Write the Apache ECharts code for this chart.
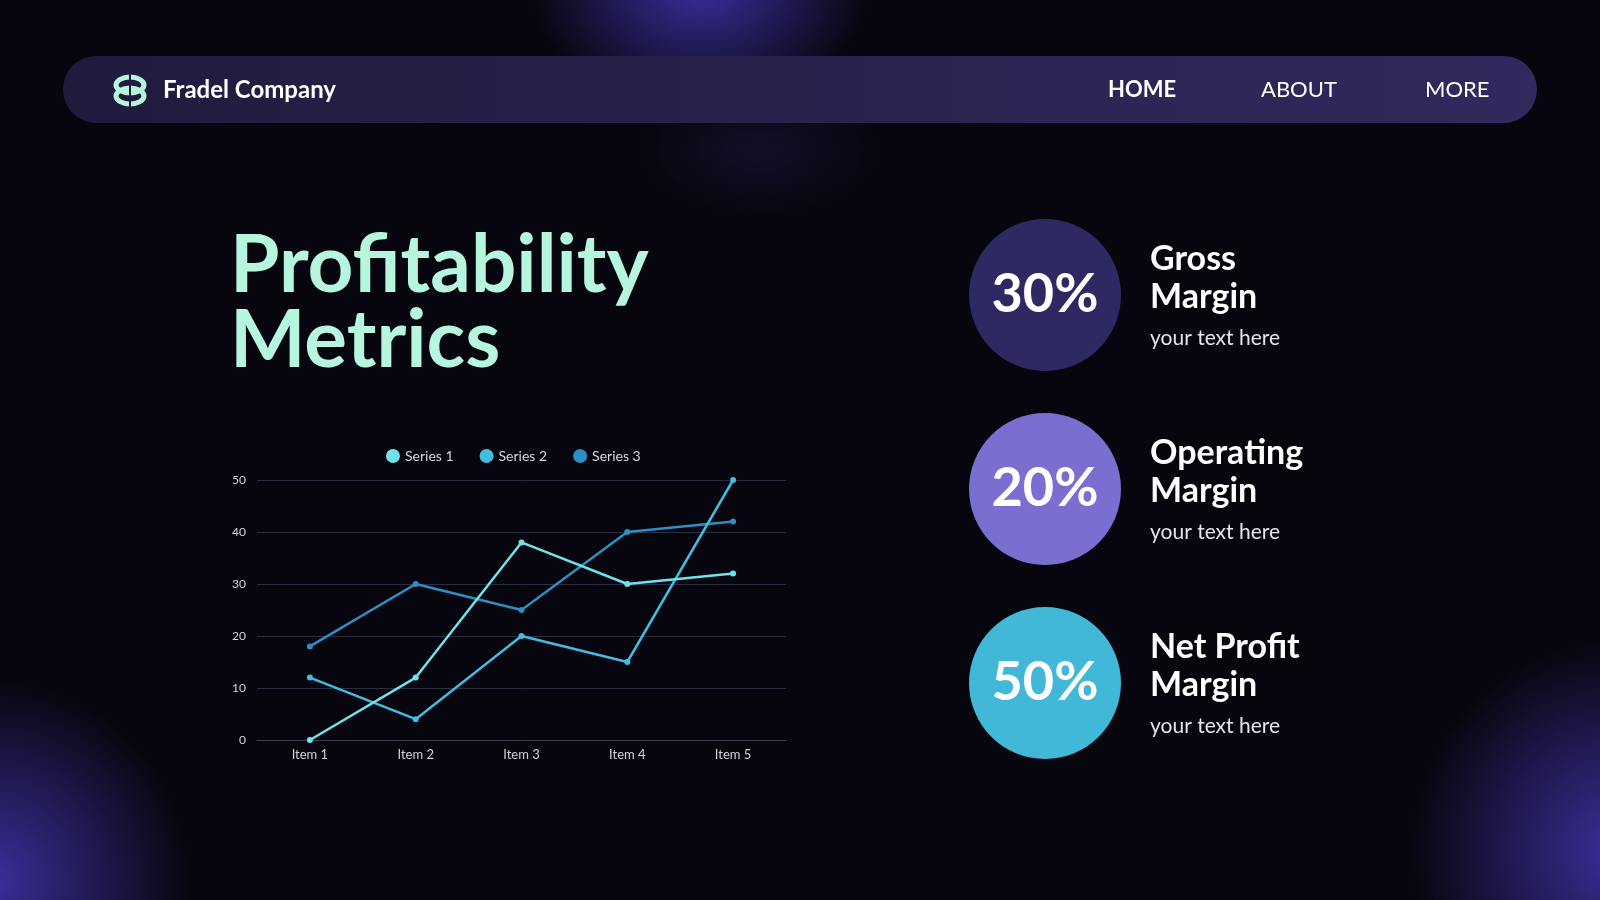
<!DOCTYPE html>
<html>
<head>
<meta charset="utf-8">
<title>Profitability Metrics</title>
<script src="https://cdn.jsdelivr.net/npm/echarts@6/dist/echarts.min.js"></script>
<style>
    html, body { margin: 0; padding: 0; background: #07060e; }
    #chart { width: 1600px; height: 900px; }
</style>
</head>
<body>
<div id="chart"></div>
<script>
    // chart data
    var categories = ['Item 1', 'Item 2', 'Item 3', 'Item 4', 'Item 5'];
    var seriesNames = ['Series 1', 'Series 2', 'Series 3'];
    var series1 = [0, 12, 38, 30, 32];
    var series2 = [12, 4, 20, 15, 50];
    var series3 = [18, 30, 25, 40, 42];
    var yMin = 0, yMax = 50, yStep = 10;

    // metric cards on the right
    var metricValues = ['30%', '20%', '50%'];
    var metricTitles = [['Gross', 'Margin'], ['Operating', 'Margin'], ['Net Profit', 'Margin']];
    var metricNote = 'your text here';
    var navItems = ['HOME', 'ABOUT', 'MORE'];

    var FONT = 'Lato, "Open Sans", sans-serif';
    var lineColors = ['#6fe3ea', '#42bde0', '#2f8fc4'];
    var circleColors = ['#2e2963', '#7a6fd1', '#41b8d8'];
    var mint = '#b6f6de';

    var myChart = echarts.init(document.getElementById('chart'), null, {width: 1600, height: 900});

    function glow(cx, cy, r, color, sy) {
        return {
            type: 'circle',
            silent: true,
            shape: {cx: 0, cy: 0, r: r},
            x: cx, y: cy,
            scaleY: sy || 1,
            style: {
                fill: new echarts.graphic.RadialGradient(0.5, 0.5, 0.5, [
                    {offset: 0, color: color},
                    {offset: 0.4, color: echarts.color.modifyAlpha(color, 0.6)},
                    {offset: 1, color: echarts.color.modifyAlpha(color, 0)}
                ])
            }
        };
    }

    var graphics = [
        glow(700, -15, 170, '#3a2f9e', 0.75),
        glow(760, 150, 120, '#121029', 0.55),
        glow(-10, 880, 200, '#3b2f9c', 1),
        glow(1620, 850, 210, '#3b2f9c', 1),
        // nav bar
        {
            type: 'rect',
            shape: {x: 63, y: 56, width: 1474, height: 67, r: 33.5},
            style: {
                fill: new echarts.graphic.LinearGradient(0, 0, 1, 0, [
                    {offset: 0, color: '#201b3d'},
                    {offset: 1, color: '#302a5e'}
                ])
            }
        },
        // logo
        {type: 'ellipse', shape: {cx: 130, cy: 85, rx: 14, ry: 8}, style: {fill: null, stroke: mint, lineWidth: 5}},
        {type: 'ellipse', shape: {cx: 130, cy: 96, rx: 14, ry: 8}, style: {fill: null, stroke: mint, lineWidth: 5}},
        {type: 'rect', shape: {x: 129, y: 72, width: 2, height: 36}, style: {fill: '#201b3d'}},
        {
            type: 'text',
            style: {text: 'Fradel Company', x: 163, y: 90, fill: '#ffffff', font: 'bold 24px ' + FONT, verticalAlign: 'middle'}
        },
        // title
        {
            type: 'text',
            style: {text: 'Profitability', x: 230, y: 266, fill: mint, font: 'bold 80px ' + FONT, verticalAlign: 'middle'}
        },
        {
            type: 'text',
            style: {text: 'Metrics', x: 230, y: 341, fill: mint, font: 'bold 80px ' + FONT, verticalAlign: 'middle'}
        }
    ];

    var navX = [1108, 1261, 1425];
    for (var i in navItems) {
        graphics.push({
            type: 'text',
            style: {
                text: navItems[i], x: navX[i], y: 90, fill: '#ffffff',
                font: (i == 0 ? 'bold ' : '') + '22px ' + FONT, verticalAlign: 'middle'
            }
        });
    }

    var rowY = [295, 489, 683];
    for (var i in metricValues) {
        var cy = rowY[i];
        graphics.push({type: 'circle', shape: {cx: 1045, cy: cy, r: 76}, style: {fill: circleColors[i]}});
        graphics.push({
            type: 'text',
            style: {
                text: metricValues[i], x: 1045, y: cy, fill: '#ffffff',
                font: 'bold 54px ' + FONT, align: 'center', verticalAlign: 'middle'
            }
        });
        graphics.push({
            type: 'text',
            style: {text: metricTitles[i][0], x: 1150, y: cy - 36, fill: '#ffffff', font: 'bold 34px ' + FONT, verticalAlign: 'middle'}
        });
        graphics.push({
            type: 'text',
            style: {text: metricTitles[i][1], x: 1150, y: cy + 2, fill: '#ffffff', font: 'bold 34px ' + FONT, verticalAlign: 'middle'}
        });
        graphics.push({
            type: 'text',
            style: {text: metricNote, x: 1150, y: cy + 43, fill: '#e4e4ee', font: '21px ' + FONT, verticalAlign: 'middle'}
        });
    }

    var seriesData = [series1, series2, series3];
    var series = [];
    for (var i in seriesData) {
        series.push({
            name: seriesNames[i],
            type: 'line',
            data: seriesData[i],
            symbol: 'circle',
            symbolSize: 6,
            lineStyle: {width: 2.5, color: lineColors[i]},
            itemStyle: {color: lineColors[i]},
            z: 3 - i
        });
    }

    var option = {
        backgroundColor: '#07060e',
        animation: false,
        graphic: graphics,
        legend: {
            data: seriesNames,
            left: 381,
            top: 444,
            icon: 'circle',
            itemWidth: 14,
            itemHeight: 14,
            itemGap: 26,
            textStyle: {color: '#d6d9e4', fontSize: 14, fontFamily: FONT}
        },
        grid: {left: 257, right: 814, top: 480, height: 260},
        xAxis: {
            type: 'category',
            data: categories,
            boundaryGap: true,
            axisLine: {lineStyle: {color: '#3a3c52', width: 1}},
            axisTick: {show: false},
            axisLabel: {color: '#d0d3de', fontSize: 13, fontFamily: FONT, margin: 8}
        },
        yAxis: {
            type: 'value',
            min: yMin,
            max: yMax,
            interval: yStep,
            axisLine: {show: false},
            axisTick: {show: false},
            axisLabel: {color: '#d0d3de', fontSize: 12, fontFamily: FONT, margin: 11},
            splitLine: {lineStyle: {color: '#2b2d40', width: 1}}
        },
        series: series
    };

    myChart.setOption(option);
</script>
</body>
</html>
